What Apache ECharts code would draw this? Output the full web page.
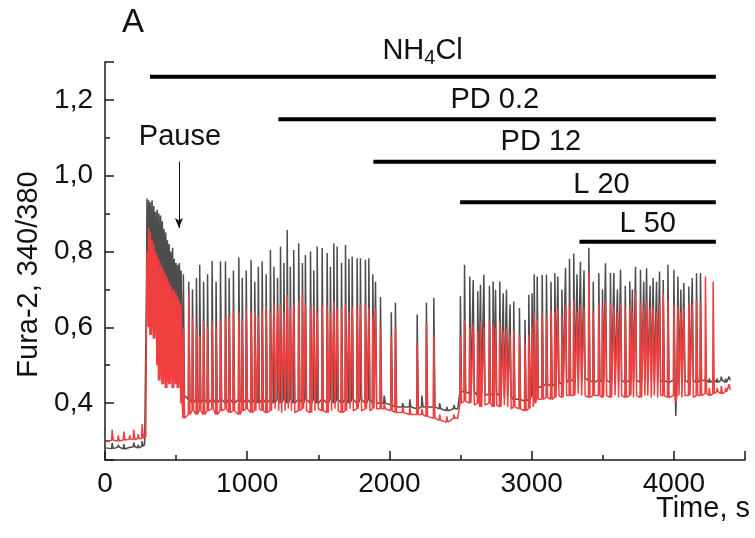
<!DOCTYPE html>
<html>
<head>
<meta charset="utf-8">
<script src="https://cdn.jsdelivr.net/npm/echarts@6/dist/echarts.min.js"></script>
<style>
  html, body { margin: 0; padding: 0; background: #fff; }
  #main { width: 755px; height: 538px; }
</style>
</head>
<body>
<div id="main"></div>
<script>
  // each row: [time s, grey peak, grey low, red peak, red low]
  const restSpikes = [
    [0, 0.285, 0.282, 0.300, 0.298], [47, 0.295, 0.280, 0.330, 0.302], [90, 0.290, 0.284, 0.315, 0.300],
    [129, 0.292, 0.279, 0.325, 0.303], [170, 0.288, 0.283, 0.315, 0.305], [199, 0.296, 0.285, 0.330, 0.304],
    [230, 0.290, 0.282, 0.318, 0.306], [258, 0.300, 0.286, 0.345, 0.307], [276, 0.292, 0.287, 0.320, 0.310],
  ];
  const burstSpikes = [
    [292, 0.940, 0.720, 0.800, 0.620], [304, 0.935, 0.800, 0.862, 0.600], [316, 0.930, 0.760, 0.850, 0.580],
    [328, 0.935, 0.740, 0.830, 0.600], [340, 0.920, 0.780, 0.820, 0.570], [352, 0.905, 0.720, 0.800, 0.590],
    [364, 0.910, 0.750, 0.790, 0.500], [376, 0.900, 0.700, 0.780, 0.460], [388, 0.895, 0.740, 0.770, 0.480],
    [400, 0.880, 0.690, 0.760, 0.450], [412, 0.860, 0.720, 0.750, 0.470], [424, 0.850, 0.680, 0.740, 0.440],
    [436, 0.830, 0.700, 0.730, 0.460], [448, 0.820, 0.670, 0.720, 0.450], [460, 0.800, 0.690, 0.710, 0.470],
    [472, 0.810, 0.660, 0.700, 0.440], [484, 0.780, 0.680, 0.700, 0.460], [496, 0.770, 0.650, 0.690, 0.450],
    [508, 0.765, 0.660, 0.680, 0.440], [520, 0.770, 0.620, 0.670, 0.460], [532, 0.750, 0.550, 0.660, 0.400],
  ];
  const nh4Spikes = [
    [548, 0.740, 0.420, 0.600, 0.360], [586, 0.720, 0.410, 0.690, 0.370], [612, 0.700, 0.400, 0.625, 0.380],
    [640, 0.730, 0.410, 0.600, 0.370], [663, 0.765, 0.400, 0.577, 0.380], [690, 0.720, 0.410, 0.616, 0.370],
    [718, 0.740, 0.400, 0.600, 0.380], [750, 0.775, 0.410, 0.616, 0.385], [778, 0.720, 0.400, 0.600, 0.370],
    [809, 0.774, 0.410, 0.620, 0.380], [844, 0.774, 0.400, 0.625, 0.385], [870, 0.730, 0.410, 0.629, 0.375],
    [900, 0.750, 0.400, 0.647, 0.380], [938, 0.785, 0.410, 0.638, 0.370], [962, 0.730, 0.400, 0.620, 0.380],
    [990, 0.750, 0.410, 0.651, 0.385], [1024, 0.778, 0.400, 0.640, 0.375], [1050, 0.720, 0.410, 0.642, 0.380],
    [1075, 0.760, 0.400, 0.630, 0.385], [1102, 0.774, 0.410, 0.647, 0.380], [1130, 0.740, 0.400, 0.655, 0.375],
    [1160, 0.804, 0.410, 0.640, 0.380], [1185, 0.760, 0.400, 0.665, 0.385], [1210, 0.730, 0.410, 0.650, 0.380],
    [1231, 0.813, 0.400, 0.660, 0.375], [1255, 0.770, 0.410, 0.640, 0.380], [1278, 0.857, 0.400, 0.685, 0.385],
    [1300, 0.760, 0.410, 0.650, 0.380], [1324, 0.804, 0.400, 0.660, 0.375], [1359, 0.822, 0.410, 0.669, 0.380],
    [1385, 0.770, 0.400, 0.695, 0.385], [1406, 0.791, 0.410, 0.660, 0.380], [1442, 0.800, 0.400, 0.650, 0.375],
    [1465, 0.750, 0.410, 0.655, 0.380], [1489, 0.813, 0.400, 0.640, 0.385], [1524, 0.809, 0.410, 0.660, 0.380],
    [1559, 0.796, 0.400, 0.655, 0.375], [1582, 0.760, 0.410, 0.640, 0.380], [1606, 0.822, 0.400, 0.669, 0.385],
    [1629, 0.813, 0.410, 0.650, 0.380], [1660, 0.770, 0.400, 0.651, 0.375], [1688, 0.817, 0.410, 0.660, 0.380],
    [1712, 0.780, 0.400, 0.640, 0.385], [1735, 0.787, 0.410, 0.655, 0.380], [1770, 0.782, 0.400, 0.650, 0.385],
    [1793, 0.782, 0.410, 0.660, 0.380], [1828, 0.778, 0.400, 0.665, 0.385], [1852, 0.782, 0.410, 0.650, 0.380],
    [1880, 0.740, 0.400, 0.630, 0.385], [1899, 0.720, 0.400, 0.651, 0.385],
  ];
  const pdSpikes = [
    [1934, 0.680, 0.400, 0.600, 0.385], [1960, 0.420, 0.400, 0.400, 0.385], [2010, 0.640, 0.395, 0.575, 0.380],
    [2039, 0.665, 0.390, 0.600, 0.375], [2090, 0.400, 0.390, 0.390, 0.375], [2140, 0.410, 0.390, 0.390, 0.370],
    [2192, 0.634, 0.385, 0.560, 0.370], [2225, 0.420, 0.390, 0.385, 0.370], [2257, 0.665, 0.390, 0.610, 0.365],
    [2309, 0.678, 0.390, 0.577, 0.360], [2350, 0.400, 0.385, 0.370, 0.355], [2400, 0.390, 0.380, 0.365, 0.350],
    [2450, 0.395, 0.385, 0.370, 0.360], [2480, 0.390, 0.385, 0.365, 0.360],
  ];
  const lSpikes = [
    [2496, 0.682, 0.430, 0.580, 0.400], [2525, 0.765, 0.430, 0.620, 0.405], [2562, 0.734, 0.425, 0.600, 0.400],
    [2586, 0.725, 0.430, 0.610, 0.395], [2618, 0.695, 0.420, 0.590, 0.400], [2637, 0.712, 0.425, 0.615, 0.390],
    [2661, 0.739, 0.420, 0.600, 0.395], [2700, 0.710, 0.425, 0.620, 0.400], [2726, 0.721, 0.420, 0.610, 0.390],
    [2743, 0.699, 0.425, 0.600, 0.395], [2773, 0.721, 0.420, 0.615, 0.390], [2797, 0.690, 0.415, 0.590, 0.395],
    [2820, 0.699, 0.420, 0.600, 0.390], [2845, 0.660, 0.415, 0.580, 0.385], [2871, 0.668, 0.410, 0.590, 0.390],
    [2911, 0.651, 0.410, 0.580, 0.385], [2950, 0.620, 0.405, 0.560, 0.380], [2977, 0.686, 0.410, 0.580, 0.385],
    [3000, 0.690, 0.420, 0.600, 0.390], [3015, 0.740, 0.430, 0.638, 0.400], [3036, 0.734, 0.440, 0.620, 0.410],
    [3071, 0.739, 0.445, 0.640, 0.410], [3101, 0.739, 0.450, 0.630, 0.415], [3133, 0.720, 0.445, 0.647, 0.410],
    [3160, 0.743, 0.450, 0.640, 0.415], [3181, 0.734, 0.455, 0.650, 0.420], [3210, 0.700, 0.450, 0.630, 0.415],
    [3235, 0.757, 0.455, 0.660, 0.420], [3263, 0.780, 0.460, 0.655, 0.420], [3293, 0.795, 0.460, 0.670, 0.420],
    [3316, 0.740, 0.465, 0.640, 0.425], [3340, 0.773, 0.460, 0.660, 0.420], [3365, 0.750, 0.465, 0.650, 0.420],
    [3399, 0.810, 0.460, 0.743, 0.415], [3430, 0.720, 0.455, 0.640, 0.420], [3469, 0.743, 0.460, 0.665, 0.420],
    [3495, 0.700, 0.455, 0.650, 0.415], [3516, 0.769, 0.460, 0.673, 0.420], [3551, 0.743, 0.455, 0.660, 0.415],
    [3575, 0.743, 0.460, 0.655, 0.420], [3600, 0.700, 0.455, 0.640, 0.415], [3622, 0.752, 0.460, 0.665, 0.420],
    [3655, 0.710, 0.455, 0.650, 0.415], [3687, 0.721, 0.460, 0.660, 0.420], [3705, 0.700, 0.455, 0.640, 0.415],
    [3727, 0.760, 0.460, 0.690, 0.420], [3762, 0.752, 0.455, 0.665, 0.415], [3785, 0.720, 0.460, 0.650, 0.420],
    [3805, 0.756, 0.455, 0.673, 0.420], [3830, 0.710, 0.460, 0.650, 0.415], [3851, 0.730, 0.455, 0.655, 0.420],
    [3875, 0.720, 0.460, 0.640, 0.415], [3896, 0.747, 0.455, 0.665, 0.420], [3922, 0.725, 0.460, 0.690, 0.420],
    [3955, 0.765, 0.455, 0.673, 0.415], [3997, 0.752, 0.460, 0.660, 0.420], [4010, 0.366, 0.455, 0.400, 0.420],
    [4025, 0.734, 0.460, 0.655, 0.420], [4046, 0.700, 0.455, 0.640, 0.415], [4067, 0.717, 0.460, 0.650, 0.420],
    [4102, 0.708, 0.455, 0.665, 0.420], [4126, 0.730, 0.460, 0.660, 0.415], [4156, 0.743, 0.455, 0.673, 0.420],
    [4184, 0.743, 0.460, 0.665, 0.420], [4219, 0.470, 0.460, 0.734, 0.425], [4245, 0.465, 0.455, 0.440, 0.420],
    [4273, 0.470, 0.460, 0.721, 0.425], [4300, 0.465, 0.455, 0.440, 0.430], [4330, 0.470, 0.460, 0.445, 0.425],
    [4360, 0.465, 0.455, 0.440, 0.430], [4385, 0.470, 0.460, 0.450, 0.435],
  ];

  // drug application bars
  const barText = ['NH{sub|4}Cl', 'PD 0.2', 'PD 12', 'L 20', 'L 50'];
  const barStart = [316, 1219, 1887, 2497, 3336];
  const barEnd = [4295, 4295, 4295, 4295, 4295];
  const barLevel = [1.261, 1.149, 1.037, 0.930, 0.826];
  const labelT = [2233, 2741, 3065, 3491, 3816];
  const labelLevel = [1.330, 1.200, 1.090, 0.976, 0.873];

  const pauseT = 520;
  const pauseLabel = [527, 1.103];
  const pauseArrow = [1.037, 0.862];

  const allSpikes = restSpikes.concat(burstSpikes, nh4Spikes, pdSpikes, lSpikes);

  function trace(peakCol, lowCol) {
    const pts = [];
    allSpikes.forEach(function (row) {
      pts.push([row[0], row[lowCol]], [row[0] + 3, row[peakCol]], [row[0] + 11, row[lowCol]]);
    });
    return pts;
  }

  const FONT = 'Liberation Sans, Arial, sans-serif';
  const INK = '#111';

  const myChart = echarts.init(document.getElementById('main'));

  const axisCommon = {
    splitLine: { show: false },
    axisLine: { show: true, onZero: false, lineStyle: { color: '#1a1a1a', width: 1.5 } },
    axisTick: { show: true, inside: true, length: 9, lineStyle: { color: '#1a1a1a', width: 1.5 } },
    minorTick: { show: true, splitNumber: 2, length: 5, lineStyle: { color: '#1a1a1a', width: 1.5 } },
  };

  const series = [
    {
      name: 'grey',
      type: 'line',
      data: trace(1, 2),
      symbol: 'none',
      lineStyle: { color: '#4d4d4d', width: 1.5 },
      silent: true,
    },
    {
      name: 'red',
      type: 'line',
      data: trace(3, 4),
      symbol: 'none',
      lineStyle: { color: '#ef3f3f', width: 1.5 },
      silent: true,
    },
  ];

  barText.forEach(function (txt, i) {
    series.push({
      type: 'line',
      data: [[barStart[i], barLevel[i]], [barEnd[i], barLevel[i]]],
      symbol: 'none',
      lineStyle: { color: '#000', width: 4, cap: 'butt' },
      silent: true,
    });
  });

  const labelData = barText.map(function (txt, i) { return [labelT[i], labelLevel[i], txt]; });
  labelData.push([pauseLabel[0], pauseLabel[1], 'Pause']);

  series.push({
    type: 'scatter',
    data: labelData,
    symbolSize: 0,
    clip: false,
    silent: true,
    itemStyle: { opacity: 1 },
    label: {
      show: true,
      position: 'inside',
      formatter: function (p) { return p.data[2]; },
      fontFamily: FONT,
      fontSize: 29,
      color: INK,
      rich: {
        sub: { fontFamily: FONT, fontSize: 20, color: INK, padding: [16, 0, 0, 0] },
      },
    },
    markLine: {
      silent: true,
      symbol: ['none', 'arrow'],
      symbolSize: [6, 10],
      label: { show: false },
      lineStyle: { color: INK, width: 1, type: 'solid' },
      data: [[{ coord: [pauseT, pauseArrow[0]] }, { coord: [pauseT, pauseArrow[1]] }]],
    },
  });

  const option = {
    animation: false,
    title: {
      text: 'A',
      left: 122,
      top: 6,
      padding: 0,
      textStyle: { fontFamily: FONT, fontSize: 33, fontWeight: 'normal', color: INK },
    },
    graphic: [{
      type: 'text',
      right: 5,
      top: 494,
      silent: true,
      style: { text: 'Time, s', fontFamily: FONT, fontSize: 29, fill: INK },
    }],
    grid: { left: 105, right: 10, top: 62, bottom: 78, containLabel: false, outerBoundsMode: 'none' },
    xAxis: Object.assign({
      type: 'value',
      min: 0,
      max: 4500,
      axisLabel: {
        fontFamily: FONT, fontSize: 28, color: INK, margin: 10, showMaxLabel: false,
        formatter: function (v) { return String(v); },
      },
    }, axisCommon),
    yAxis: Object.assign({
      type: 'value',
      min: 0.25,
      max: 1.3,
      name: 'Fura-2, 340/380',
      nameLocation: 'middle',
      nameGap: 62,
      nameRotate: 90,
      nameTextStyle: { fontFamily: FONT, fontSize: 29, color: INK, padding: [0, 27, 0, 0] },
      axisLabel: {
        fontFamily: FONT, fontSize: 28, color: INK, margin: 12,
        showMinLabel: false, showMaxLabel: false,
        formatter: function (v) { return v.toFixed(1).replace('.', ','); },
      },
    }, axisCommon),
    series: series,
  };

  myChart.setOption(option);
</script>
</body>
</html>
